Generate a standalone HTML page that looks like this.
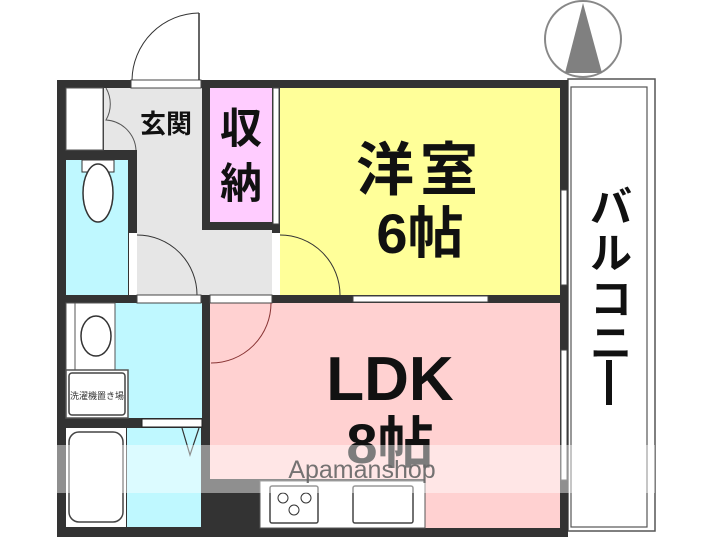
<!DOCTYPE html>
<html><head><meta charset="utf-8"><style>
html,body{margin:0;padding:0;background:#fff;}
svg{display:block;}
text{font-family:"Liberation Sans","Noto Sans CJK JP",sans-serif;}
</style></head><body>
<svg width="720" height="540" viewBox="0 0 720 540" xmlns="http://www.w3.org/2000/svg">
<circle cx="583" cy="39" r="38" fill="#fff" stroke="#888" stroke-width="2"/>
<polygon points="583,3 565,73 602,73" fill="#808080"/>
<rect x="568" y="79" width="87" height="452" fill="#fff" stroke="#555" stroke-width="1.5"/>
<rect x="571" y="87" width="76" height="440" fill="#fff" stroke="#555" stroke-width="1.2"/>
<rect x="57" y="80" width="511" height="457" fill="#333"/>
<rect x="66" y="88" width="37" height="62" fill="#fff" stroke="#555" stroke-width="1"/>
<rect x="104" y="88" width="98" height="62" fill="#e6e6e6"/>
<rect x="280" y="88" width="280" height="207" fill="#ffff99"/>
<rect x="66" y="160" width="62" height="135" fill="#bff8ff"/>
<rect x="137" y="150" width="65" height="145" fill="#e6e6e6"/>
<rect x="202" y="230" width="70" height="65" fill="#e6e6e6"/>
<rect x="210" y="88" width="62" height="134" fill="#ffccff"/>
<rect x="115" y="303" width="87" height="115" fill="#bff8ff"/>
<rect x="66" y="303" width="49" height="67" fill="#fff" stroke="#555" stroke-width="1"/>
<rect x="66" y="303" width="9" height="67" fill="#fff" stroke="#555" stroke-width="1"/>
<ellipse cx="96" cy="336" rx="15" ry="20" fill="#fff" stroke="#333" stroke-width="1.5"/>
<rect x="66" y="370" width="62" height="48" fill="#fff" stroke="#555" stroke-width="1.5"/>
<rect x="69" y="373" width="56" height="42" rx="3" fill="#fff" stroke="#444" stroke-width="1.5"/>
<text x="97" y="399" font-size="9" text-anchor="middle" fill="#333">洗濯機置き場</text>
<rect x="66" y="428" width="60" height="99" fill="#fff"/>
<rect x="69" y="432" width="54" height="90" rx="10" fill="#fff" stroke="#444" stroke-width="1.5"/>
<rect x="127" y="428" width="74" height="99" fill="#bff8ff"/>
<rect x="142" y="419" width="60" height="8" fill="#fff" stroke="#222" stroke-width="1"/>
<polyline points="182,428 190,455 199,428" fill="none" stroke="#333" stroke-width="1.2"/>
<rect x="210" y="303" width="350" height="176" fill="#ffd1d1"/>
<rect x="425" y="479" width="135" height="49" fill="#ffd1d1"/>
<rect x="260" y="481" width="165" height="47" fill="#fff" stroke="#555" stroke-width="1"/>
<rect x="270" y="486" width="48" height="37" rx="2" fill="#fff" stroke="#444" stroke-width="1.5"/>
<circle cx="283" cy="498" r="5" fill="#fff" stroke="#333"/>
<circle cx="306" cy="498" r="5" fill="#fff" stroke="#333"/>
<circle cx="294" cy="510" r="5" fill="#fff" stroke="#333"/>
<rect x="353" y="486" width="60" height="37" rx="2" fill="#fff" stroke="#444" stroke-width="1.5"/>
<rect x="131" y="80" width="70" height="8" fill="#fff" stroke="#444" stroke-width="1"/>
<line x1="199" y1="13" x2="199" y2="80" stroke="#333" stroke-width="1.5"/>
<path d="M199,13 A68,68 0 0 0 132,80" fill="none" stroke="#333" stroke-width="1"/>
<path d="M106,88 A32,32 0 0 1 106,120 A32,32 0 0 1 136,150" fill="none" stroke="#555" stroke-width="1"/>
<rect x="82" y="160" width="32" height="12" fill="#fff" stroke="#333"/>
<ellipse cx="98" cy="193" rx="15" ry="29" fill="#fff" stroke="#333" stroke-width="1.5"/>
<rect x="129" y="233" width="8" height="62" fill="#fff"/>
<path d="M137,235 A60,60 0 0 1 197,295" fill="none" stroke="#333" stroke-width="1"/>
<rect x="272" y="233" width="8" height="62" fill="#fff"/>
<path d="M280,235 A60,60 0 0 1 340,295" fill="none" stroke="#333" stroke-width="1"/>
<rect x="137" y="295" width="64" height="8" fill="#fff" stroke="#444" stroke-width="1"/>
<rect x="210" y="295" width="62" height="8" fill="#fff" stroke="#444" stroke-width="1"/>
<path d="M271,303 A60,60 0 0 1 211,363" fill="none" stroke="#833" stroke-width="1"/>
<rect x="353" y="296" width="135" height="6" fill="#fff" stroke="#444" stroke-width="1"/>
<rect x="273" y="88" width="6" height="136" fill="#fff" stroke="#444" stroke-width="1"/>
<rect x="561" y="190" width="6" height="95" fill="#fff" stroke="#444" stroke-width="1"/>
<rect x="561" y="350" width="6" height="130" fill="#fff" stroke="#444" stroke-width="1"/>
<text x="166" y="133" font-size="26" text-anchor="middle" fill="#111" font-weight="bold">玄関</text>
<text x="241" y="143" font-size="42" text-anchor="middle" fill="#111" font-weight="bold">収</text>
<text x="241" y="198" font-size="42" text-anchor="middle" fill="#111" font-weight="bold">納</text>
<text x="420" y="190" font-size="58" text-anchor="middle" fill="#111" letter-spacing="6" font-weight="bold">洋室</text>
<text x="420" y="253" font-size="56" text-anchor="middle" fill="#111" font-weight="bold">6帖</text>
<text x="390" y="400" font-size="62" text-anchor="middle" fill="#111" font-weight="bold">LDK</text>
<text x="390" y="463" font-size="56" text-anchor="middle" fill="#111" font-weight="bold">8帖</text>
<g font-size="42" fill="#111" text-anchor="middle" font-weight="bold">
<text x="611" y="222">バ</text><text x="611" y="268">ル</text><text x="611" y="314">コ</text><text x="611" y="358">ニ</text>
</g>
<rect x="606" y="360" width="6" height="45" fill="#111"/>
<rect x="57" y="445" width="598" height="48" fill="#fff" opacity="0.45"/>
<text x="362" y="478" font-size="25" text-anchor="middle" fill="#666" opacity="0.9">Apamanshop</text>
</svg>
</body></html>
